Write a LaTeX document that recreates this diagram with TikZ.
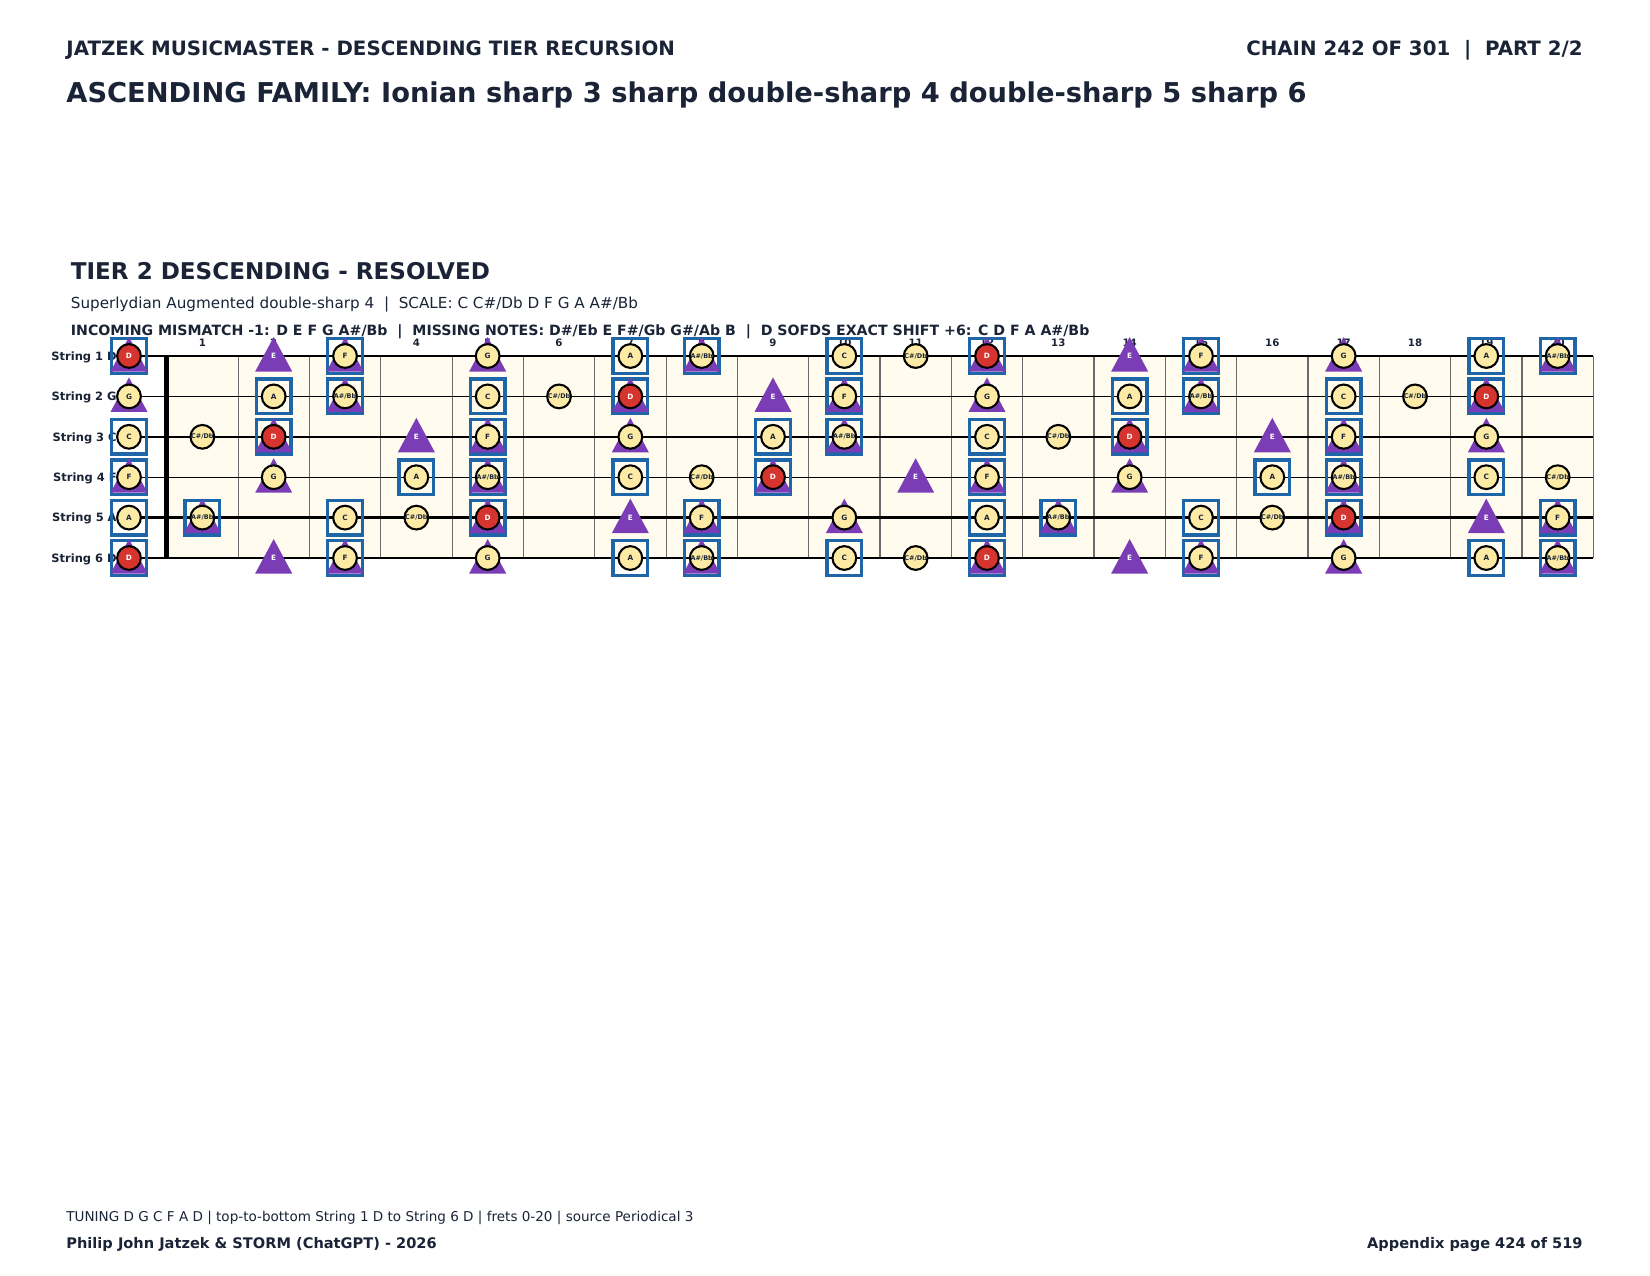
\documentclass[tikz,border=0pt]{standalone}
\usepackage{fontspec}
\setmainfont{DejaVu Sans}
\definecolor{ink}{HTML}{1A2436}
\definecolor{cream}{HTML}{FFFCEF}
\definecolor{notefill}{HTML}{FDEBA5}
\definecolor{rootred}{HTML}{D6342E}
\definecolor{tripurple}{HTML}{7B3DB6}
\definecolor{boxblue}{HTML}{1E66A8}
\definecolor{fretgray}{HTML}{6B6B6B}
\newcommand\myfs[1]{\fontsize{#1}{#1}\selectfont}
\newcommand\notename[1]{\ifcase#1 C\or C\#/Db\or D\or D\#/Eb\or E\or F\or F\#/Gb\or G\or G\#/Ab\or A\or A\#/Bb\or B\fi}
\begin{document}
\begin{tikzpicture}[x=0.48pt,y=-0.48pt,
  txt/.style={inner sep=0,text=ink},
  hdr/.style={txt,anchor=base west,font=\bfseries\myfs{9.5}},
  hdrr/.style={txt,anchor=base east,font=\bfseries\myfs{9.5}},
  ttl/.style={txt,anchor=base west,font=\bfseries\myfs{13.1}},
  tier/.style={txt,anchor=base west,font=\bfseries\myfs{11.07}},
  sub/.style={txt,anchor=base west,font=\myfs{7.3}},
  inc/.style={txt,anchor=base west,font=\bfseries\myfs{6.79}},
  foot/.style={txt,anchor=base west,font=\myfs{6.5}},
  footb/.style={txt,anchor=base west,font=\bfseries\myfs{7}},
  footbr/.style={txt,anchor=base east,font=\bfseries\myfs{7}},
  fretnum/.style={txt,anchor=base,font=\bfseries\myfs{4.9}},
  strlab/.style={txt,anchor=base east,font=\bfseries\myfs{5.5}},
  notec/.style={circle,draw=black,line width=1pt,fill=notefill,minimum size=11.4pt,inner sep=0,text=ink},
  rootc/.style={notec,fill=rootred,text=white},
  boxsq/.style={draw=boxblue,line width=1.6pt,minimum size=16.6pt,inner sep=0},
  trilab/.style={inner sep=0,text=white,font=\bfseries\myfs{3.5}},
  thinstr/.style={line width=0.6pt,black},
  thickstr/.style={line width=1.25pt,black},
  fretline/.style={line width=0.5pt,fretgray},
  nutline/.style={line width=2.2pt,black}
]
\useasboundingbox[fill=white] (0,0) rectangle (1650,1275);

% headings
\node[hdr] (h1) at (66,55.8) {JATZEK MUSICMASTER - DESCENDING TIER RECURSION};
\node[hdrr] (h2) at (1583,55.8) {CHAIN 242 OF 301~~|~~PART 2/2};
\node[ttl] (h3) at (66,102) {ASCENDING FAMILY: Ionian sharp 3 sharp double-sharp 4 double-sharp 5 sharp 6};
\node[tier] (h4) at (70.5,279) {TIER 2 DESCENDING - RESOLVED};
\node[sub] (h5) at (70.5,308) {Superlydian Augmented double-sharp 4~~|~~SCALE: C C\#/Db D F G A A\#/Bb};
\node[inc] (h6) at (70.5,335) {INCOMING MISMATCH -1: D E F G A\#/Bb~~|~~MISSING NOTES: D\#/Eb E F\#/Gb G\#/Ab B~~|~~D SOFDS EXACT SHIFT +6: C D F A A\#/Bb};

% footer
\node[foot] (f1) at (66,1221) {TUNING D G C F A D | top-to-bottom String 1 D to String 6 D | frets 0-20 | source Periodical 3};
\node[footb] (f2) at (66,1248) {Philip John Jatzek \& STORM (ChatGPT) - 2026};
\node[footbr] (f3) at (1583,1248) {Appendix page 424 of 519};

% fretboard background
\coordinate (bgA) at (166.7,356);
\coordinate (bgB) at (1593.3,558);
\fill[cream] (bgA) rectangle (bgB);

% fret wires
\foreach \k in {1,...,20} {
  \pgfmathsetmacro\FX{166.7+71.33*\k}
  \coordinate (ft\k) at (\FX,356);
  \coordinate (fb\k) at (\FX,558);
  \draw[fretline] (ft\k) -- (fb\k);
}

% strings
\foreach \s/\w in {1/thinstr,2/thinstr,3/thickstr,4/thinstr,5/thickstr,6/thinstr} {
  \pgfmathsetmacro\SY{356+40.4*(\s-1)}
  \coordinate (sl\s) at (129,\SY);
  \coordinate (sr\s) at (1593.3,\SY);
  \draw[\w] (sl\s) -- (sr\s);
}

% nut
\coordinate (nutT) at (166.7,356);
\coordinate (nutB) at (166.7,558);
\draw[nutline] (nutT) -- (nutB);

% fret numbers
\foreach \n in {1,...,20} {
  \pgfmathsetmacro\NX{166.7+71.33*(\n-0.5)}
  \node[fretnum] (fn\n) at (\NX,346.7) {\n};
}

% string labels
\foreach \s/\nm in {1/D,2/G,3/C,4/F,5/A,6/D} {
  \pgfmathsetmacro\LY{356+40.4*(\s-1)+4.2}
  \node[strlab] (lab\s) at (117,\LY) {String \s\ \nm};
}

% notes
\foreach \s/\o in {1/2,2/7,3/0,4/5,5/9,6/2} {
  \foreach \f in {0,...,20} {
    \pgfmathtruncatemacro\n{mod(\o+\f,12)}
    \pgfmathsetmacro\X{\f==0 ? 129 : 166.7+71.33*(\f-0.5)}
    \pgfmathsetmacro\Y{356+40.4*(\s-1)}
    \pgfmathtruncatemacro\isS{{1,1,1,0,0,1,0,1,0,1,1,0}[\n]}
    \pgfmathtruncatemacro\isT{{0,0,1,0,1,1,0,1,0,0,1,0}[\n]}
    \pgfmathtruncatemacro\isB{{1,0,1,0,0,1,0,0,0,1,1,0}[\n]}
    \pgfmathtruncatemacro\isSh{{0,1,0,1,0,0,1,0,1,0,1,0}[\n]}
    \ifnum\isB=1
      \node[boxsq] (b-\s-\f) at (\X,\Y) {};
    \fi
    \ifnum\isT=1
      \fill[tripurple] ({\X},{\Y-19}) -- ({\X-18.5},{\Y+15.5}) -- ({\X+18.5},{\Y+15.5}) -- cycle;
    \fi
    \ifnum\isS=1
      \ifnum\n=2
        \node[rootc,font=\bfseries\myfs{3.5}] (c-\s-\f) at (\X,\Y) {\notename{\n}};
      \else
        \ifnum\isSh=1
          \node[notec,font=\bfseries\myfs{3.1}] (c-\s-\f) at (\X,\Y) {\notename{\n}};
        \else
          \node[notec,font=\bfseries\myfs{3.5}] (c-\s-\f) at (\X,\Y) {\notename{\n}};
        \fi
      \fi
    \else
      \ifnum\isT=1
        \node[trilab] (t-\s-\f) at (\X,\Y) {\notename{\n}};
      \fi
    \fi
  }
}
\end{tikzpicture}
\end{document}
